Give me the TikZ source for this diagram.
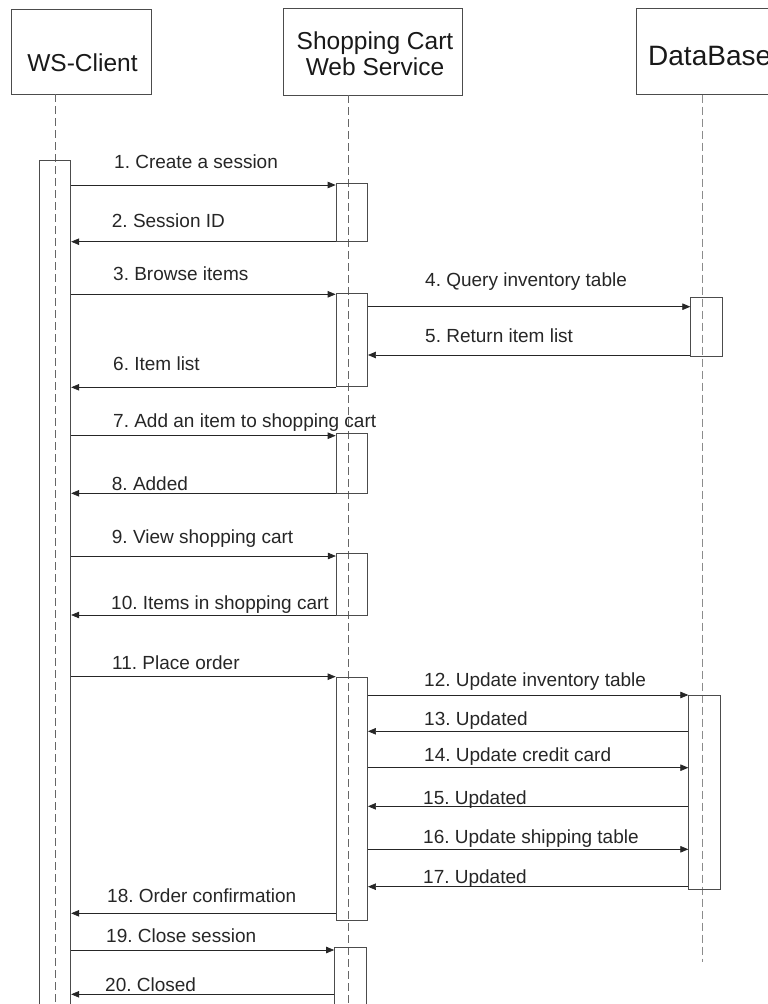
\documentclass[tikz,border=0pt]{standalone}
\usepackage{fontspec}
\setmainfont{Liberation Sans}
\usetikzlibrary{arrows.meta}
\frenchspacing

\begin{document}
\begin{tikzpicture}[
            x = 1pt, y = -1pt,
            every node/.style={inner sep=0pt},
            head/.style={draw=black!70, line width=.7pt, rectangle},
            title/.style={font=\fontsize{24.5}{26}\selectfont, text=black!90},
            act/.style={draw=black!70, line width=.7pt, rectangle, minimum width=31.6pt},
            life/.style={draw=black!60, line width=.7pt, dash pattern=on 8pt off 4pt},
            msg/.style={draw=black!85, line width=.7pt, -{Triangle[length=8pt, width=6.5pt]}},
            lbl/.style={font=\fontsize{19}{21}\selectfont, text=black!85, anchor=base west},
            ]

        \useasboundingbox (0,0) rectangle (768,1004);
        \clip (0,0) rectangle (768,1004);

        \node[head, minimum width=140pt, minimum height=85pt] (client) at (81,51.5) {};
        \node[head, minimum width=179pt, minimum height=87pt] (cart) at (372.5,51.5) {};
        \node[head, minimum width=179pt, minimum height=86.3pt] (db) at (725.5,51.2) {};

        \node[title, anchor=base] (clientname) at (82.5,71.7) {WS-Client};
        \node[title, align=center] (cartname) at (375,54) {Shopping Cart\\Web Service};
        \node[title, font=\fontsize{28}{30}\selectfont, anchor=base west] (dbname) at (648,65) {DataBase};

        \coordinate (clientend) at (55,1004);
        \coordinate (cartend) at (348,1004);
        \coordinate (dbend) at (702,962);
        \draw[life] (clientend |- client.south) -- (clientend);
        \draw[life] (cartend |- cart.south) -- (cartend);
        \draw[life, draw=black!45] (dbend |- db.south) -- (dbend);

        \node[act, minimum height=850pt] (wsc) at (55,585) {};

        \node[act, minimum height=58.7pt] (s1) at (351.8,212.35) {};
        \node[act, minimum height=93.4pt] (s2) at (351.8,340) {};
        \node[act, minimum height=60pt] (s3) at (351.8,463.3) {};
        \node[act, minimum height=61.7pt] (s4) at (352,584.2) {};
        \node[act, minimum height=243.4pt] (s5) at (351.8,799) {};
        \node[act, minimum height=62.7pt] (s6) at (350.3,978.7) {};

        \node[act, minimum height=58.3pt] (d1) at (706.5,326.85) {};
        \node[act, minimum height=194.3pt] (d2) at (704.5,792.15) {};

        \draw[msg] (wsc.east |- 0,185) -- (s1.west |- 0,185);
        \draw[msg] (s1.west |- 0,241.7) -- (wsc.east |- 0,241.7);
        \draw[msg] (wsc.east |- 0,294.3) -- (s2.west |- 0,294.3);
        \draw[msg] (s2.east |- 0,306.7) -- (d1.west |- 0,306.7);
        \draw[msg] (d1.west |- 0,355) -- (s2.east |- 0,355);
        \draw[msg] (s2.west |- 0,387.3) -- (wsc.east |- 0,387.3);
        \draw[msg] (wsc.east |- 0,435.7) -- (s3.west |- 0,435.7);
        \draw[msg] (s3.west |- 0,493.3) -- (wsc.east |- 0,493.3);
        \draw[msg] (wsc.east |- 0,556) -- (s4.west |- 0,556);
        \draw[msg] (s4.west |- 0,615) -- (wsc.east |- 0,615);
        \draw[msg] (wsc.east |- 0,676.7) -- (s5.west |- 0,676.7);
        \draw[msg] (s5.east |- 0,695) -- (d2.west |- 0,695);
        \draw[msg] (d2.west |- 0,731.3) -- (s5.east |- 0,731.3);
        \draw[msg] (s5.east |- 0,767.7) -- (d2.west |- 0,767.7);
        \draw[msg] (d2.west |- 0,806.3) -- (s5.east |- 0,806.3);
        \draw[msg] (s5.east |- 0,849.3) -- (d2.west |- 0,849.3);
        \draw[msg] (d2.west |- 0,886.7) -- (s5.east |- 0,886.7);
        \draw[msg] (s5.west |- 0,913.3) -- (wsc.east |- 0,913.3);
        \draw[msg] (wsc.east |- 0,950) -- (s6.west |- 0,950);
        \draw[msg] (s6.west |- 0,994.3) -- (wsc.east |- 0,994.3);

        \node[lbl] (t1) at (114,168.3) {1. Create a session};
        \node[lbl] (t2) at (111.7,227.7) {2. Session ID};
        \node[lbl] (t3) at (113,280.7) {3. Browse items};
        \node[lbl] (t4) at (425,286) {4. Query inventory table};
        \node[lbl] (t5) at (425,342.7) {5. Return item list};
        \node[lbl] (t6) at (113,370) {6. Item list};
        \node[lbl] (t7) at (113,427.3) {7. Add an item to shopping cart};
        \node[lbl] (t8) at (111.7,490) {8. Added};
        \node[lbl] (t9) at (111.7,543.3) {9. View shopping cart};
        \node[lbl] (t10) at (111,609.3) {10. Items in shopping cart};
        \node[lbl] (t11) at (112,669.3) {11. Place order};
        \node[lbl] (t12) at (424,686.7) {12. Update inventory table};
        \node[lbl] (t13) at (424,725) {13. Updated};
        \node[lbl] (t14) at (424,761.7) {14. Update credit card};
        \node[lbl] (t15) at (423,804) {15. Updated};
        \node[lbl] (t16) at (423,843.3) {16. Update shipping table};
        \node[lbl] (t17) at (423,883.3) {17. Updated};
        \node[lbl] (t18) at (107,902) {18. Order confirmation};
        \node[lbl] (t19) at (106,942.7) {19. Close session};
        \node[lbl] (t20) at (105,991) {20. Closed};
    \end{tikzpicture}
\end{document}
